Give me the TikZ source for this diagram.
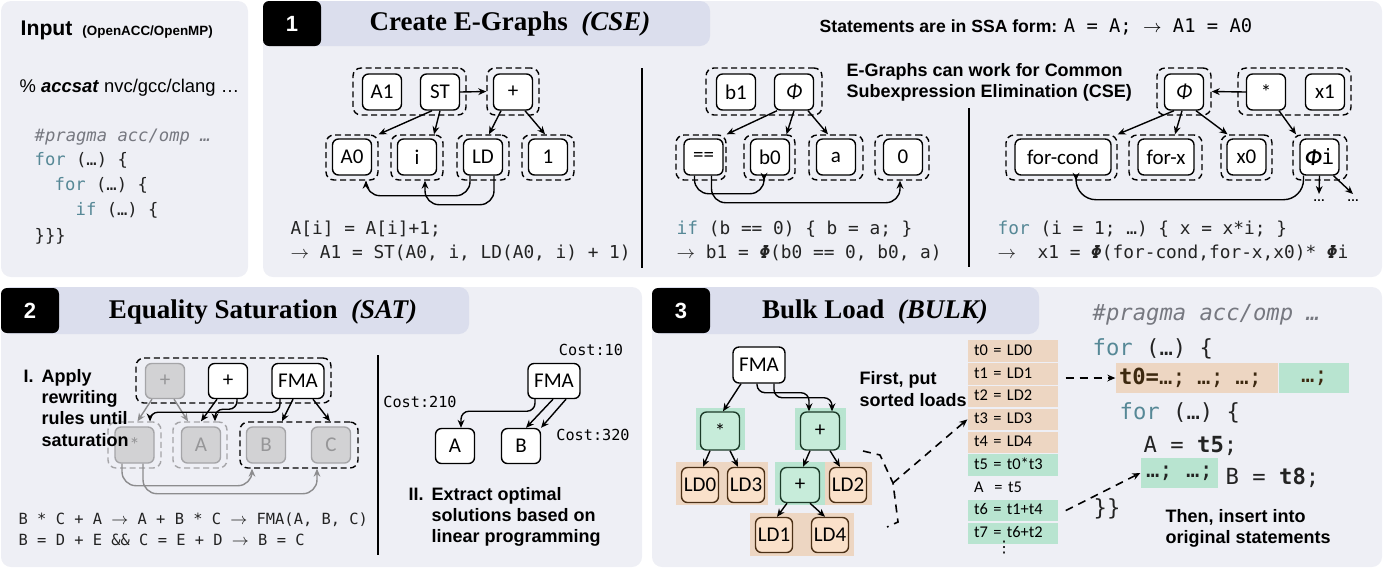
\documentclass[tikz,border=0pt]{standalone}
\usepackage{fontspec}
\setmainfont{Liberation Serif}
\setsansfont{Liberation Sans}
\setmonofont{DejaVu Sans Mono}
\newfontfamily\labelfont{Carlito}
\newfontfamily\dotsfont{DejaVu Sans}
\usepackage{xcolor}
\usepackage{tikz}
\usetikzlibrary{positioning,arrows.meta}
\definecolor{panelbg}{RGB}{238,239,245}
\definecolor{tabbg}{RGB}{219,222,237}
\definecolor{kwcol}{RGB}{86,136,150}
\definecolor{pragcol}{RGB}{118,120,128}
\definecolor{codecol}{RGB}{35,35,35}
\definecolor{mint}{RGB}{184,228,208}
\definecolor{mintnode}{RGB}{199,236,218}
\definecolor{mintline}{RGB}{28,58,40}
\definecolor{peach}{RGB}{237,214,194}
\definecolor{peachnode}{RGB}{250,225,202}
\definecolor{peachline}{RGB}{75,48,22}
\definecolor{fadefill}{RGB}{210,210,212}
\definecolor{fadeline}{RGB}{165,165,168}
\definecolor{fadetext}{RGB}{150,150,152}
\definecolor{fadeedge}{RGB}{140,140,142}
\definecolor{loadtext}{RGB}{60,40,15}
\newcommand{\arr}{$\rightarrow$}
\tikzset{
  enode/.style={draw,line width=0.7pt,rounded corners=3pt,fill=white,
    minimum width=19.5pt,minimum height=18pt,inner sep=1pt,
    font=\labelfont\fontsize{10.5}{12}\selectfont},
  egroup/.style={draw,line width=0.7pt,dash pattern=on 3pt off 1.8pt,
    rounded corners=4pt,minimum width=26pt,minimum height=22.5pt,inner sep=0pt},
  fadenode/.style={enode,draw=fadeline,fill=fadefill,text=fadetext},
  fadegroup/.style={egroup,draw=fadeline},
  greennode/.style={enode,draw=mintline,fill=mintnode,minimum height=19pt},
  loadnode/.style={enode,draw=peachline,fill=peachnode,minimum width=18.5pt,
    minimum height=17.5pt},
  bgbox/.style={inner sep=0pt},
  badge/.style={fill=black,rounded corners=3pt,text=white,minimum width=29pt,
    minimum height=22.5pt,font=\sffamily\bfseries\fontsize{11}{13}\selectfont},
  title/.style={font=\rmfamily\bfseries\fontsize{13.5}{16}\selectfont},
  note/.style={font=\sffamily\bfseries\fontsize{9}{10.6}\selectfont,align=left,
    inner sep=0pt},
  code/.style={font=\ttfamily\fontsize{8.9}{10}\selectfont,text=codecol,
    inner sep=0pt},
  cost/.style={font=\ttfamily\fontsize{7.6}{9}\selectfont,inner sep=0pt},
  bigcode/.style={font=\ttfamily\fontsize{11.1}{13}\selectfont,text=codecol,
    inner sep=0pt},
  row/.style={inner ysep=0pt,inner xsep=3pt,text width=39pt,text height=6.2pt,
    text depth=2pt,minimum height=10.7pt,align=left,
    font=\labelfont\fontsize{8.2}{9}\selectfont},
  more/.style={anchor=north,inner sep=0.5pt,text height=3pt,
    font=\sffamily\bfseries\fontsize{6}{7}\selectfont},
  link/.style={dash pattern=on 4pt off 3pt,line width=0.8pt}
}
\begin{document}
\begin{tikzpicture}[x=0.5pt,y=-0.5pt,>={Stealth[length=4pt,width=3.4pt]},
  line width=0.7pt]
\useasboundingbox (0,0) rectangle (1385,570);
\fill[panelbg,rounded corners=5pt] (1,1) rectangle (248,277);
\fill[panelbg,rounded corners=5pt] (263,1) rectangle (1382,277);
\fill[panelbg,rounded corners=5pt] (1,287) rectangle (642,567);
\fill[panelbg,rounded corners=5pt] (652,287) rectangle (1382,567);
\fill[tabbg,rounded corners=5pt] (263,1) rectangle (710,46);
\fill[tabbg,rounded corners=5pt] (1,287) rectangle (469,334);
\fill[tabbg,rounded corners=5pt] (652,287) rectangle (1039,334);
\node[badge] (num1) at (292,23.5) {1};
\node[badge] (num2) at (30,310.5) {2};
\node[badge] (num3) at (681,310.5) {3};
\node[title] (title1) at (510,24) {Create E-Graphs~ \textit{(CSE)}};
\node[title] (title2) at (263,312) {Equality Saturation~ \textit{(SAT)}};
\node[title] (title3) at (875,312) {Bulk Load~ \textit{(BULK)}};

\node[anchor=base west,inner sep=0pt,font=\sffamily\bfseries\fontsize{10.6}{12}\selectfont]
  (input) at (20,35) {Input\hspace{5pt}{\fontsize{6.7}{8}\selectfont(OpenACC/OpenMP)}};
\node[anchor=west,inner sep=0pt,font=\sffamily\fontsize{9.2}{11}\selectfont]
  (cmd) at (19,88) {\% \textbf{\textit{accsat}} nvc/gcc/clang …};
\node[code,font=\ttfamily\fontsize{8.6}{10}\selectfont,anchor=base west,text=pragcol]
  (prag) at (34,141) {\itshape \#pragma acc/omp …};
\node[code,font=\ttfamily\fontsize{8.6}{10}\selectfont,anchor=base west]
  (forA) at (34,165) {\textcolor{kwcol}{for} (…) \{};
\node[code,font=\ttfamily\fontsize{8.6}{10}\selectfont,anchor=base west]
  (forB) at (54,190) {\textcolor{kwcol}{for} (…) \{};
\node[code,font=\ttfamily\fontsize{8.6}{10}\selectfont,anchor=base west]
  (ifA) at (75,215) {\textcolor{kwcol}{if} (…) \{};
\node[code,font=\ttfamily\fontsize{8.6}{10}\selectfont,anchor=base west]
  (closeA) at (34,241) {\}\}\}};

\node[egroup,minimum width=56.5pt,minimum height=23.5pt] (gST) at (409.5,91.5) {};
\node[enode] (A1) at (382,92) {A1};
\node[enode] (ST) at (440,92) {ST};
\node[egroup,minimum height=23.5pt] (gAdd) at (513,91.5) {};
\node[enode] (add) at (513,92) {+};
\node[egroup] (gA0) at (352,157.5) {};
\node[enode] (A0) at (352,157) {A0};
\node[egroup] (gi) at (417,157.5) {};
\node[enode] (ni) at (417,157) {i};
\node[egroup] (gLD) at (483,157.5) {};
\node[enode] (LD) at (483,157) {LD};
\node[egroup] (gone) at (548,157.5) {};
\node[enode] (one) at (548,157) {1};
\draw[->] (ST.east) -- (gAdd.west);
\draw[->] ([xshift=-4pt]ST.south) -- (gA0.north east);
\draw[->] (ST.south) -- ([xshift=8.5pt]gi.north);
\draw[->] ([xshift=-6pt]add.south) -- ([xshift=3pt]gLD.north);
\draw[->] ([xshift=6pt]add.south) -- ([xshift=-1.5pt]gone.north);
\draw[->,rounded corners=7pt] ([xshift=-6.5pt]LD.south) -- ++(0,20)
  -| ([xshift=7pt]gA0.south);
\draw[->,rounded corners=7pt] ([xshift=5.5pt]LD.south) -- ++(0,29)
  -| ([xshift=4pt]gi.south);
\node[code,anchor=base west] (srcA) at (290,234) {A[i] = A[i]+1;};
\node[code,anchor=base west] (ssaA) at (290,258) {\arr{} A1 = ST(A0, i, LD(A0, i) + 1)};
\draw (642,68) -- (642,268);

\node[anchor=base west,inner sep=0pt] (ssa) at (819,32)
  {\sffamily\bfseries\fontsize{8.8}{10}\selectfont Statements are in SSA form:
   {\ttfamily\mdseries\fontsize{9.4}{10}\selectfont A = A; \arr{} A1 = A0}};
\node[egroup,minimum width=58pt,minimum height=23.5pt] (gPhiB) at (764,91.5) {};
\node[enode] (b1) at (736,92) {b1};
\node[enode] (phiB) at (794,92) {\itshape Φ};
\node[egroup,minimum width=25pt] (gEq) at (701,157.5) {};
\node[enode] (eq) at (703.5,157) {==};
\node[egroup,minimum width=25.5pt] (gb0) at (769.5,157.5) {};
\node[enode] (b0) at (770,157) {b0};
\node[egroup,minimum width=27pt] (ga) at (836,157.5) {};
\node[enode] (na) at (836,157) {a};
\node[egroup,minimum width=27pt] (gzero) at (902,157.5) {};
\node[enode] (zero) at (903,157) {0};
\draw[->] ([xshift=-8.5pt]phiB.south) -- (gEq.north east);
\draw[->] (phiB.south) -- ([xshift=8.5pt]gb0.north);
\draw[->] ([xshift=7pt]phiB.south) -- ([xshift=-4pt]ga.north);
\draw[->,rounded corners=7pt] ([xshift=-4.5pt]eq.south) -- ++(0,18)
  -| ([xshift=-2.75pt]gb0.south);
\draw[->,rounded corners=7pt] ([xshift=4pt]eq.south) -- ++(0,27)
  -| ([xshift=-1pt]gzero.south);
\node[code,anchor=base west] (srcB) at (676,234)
  {\textcolor{kwcol}{if} (b == 0) \{ b = a; \}};
\node[code,anchor=base west] (ssaB) at (676,258)
  {\arr{} b1 = \textbf{\textit{Φ}}(b0 == 0, b0, a)};
\node[note,anchor=west] (cseNote) at (846,82)
  {E-Graphs can work for Common\\Subexpression Elimination (CSE)};
\draw (969,108) -- (969,267);

\node[egroup,minimum width=27pt,minimum height=23.5pt] (gPhiC) at (1184,91.5) {};
\node[enode] (phiC) at (1184,92) {\itshape Φ};
\node[egroup,minimum width=56.5pt,minimum height=23.5pt] (gMul) at (1294.5,91.5) {};
\node[enode] (mul) at (1266,92) {*};
\node[enode] (x1) at (1325,92) {x1};
\node[egroup,minimum width=55.5pt] (gFC) at (1061.5,157.5) {};
\node[enode,minimum width=48pt] (forcond) at (1063,157) {for-cond};
\node[egroup,minimum width=36.5pt] (gFX) at (1165.5,157.5) {};
\node[enode,minimum width=28pt] (forx) at (1166,157) {for-x};
\node[egroup,minimum width=25.5pt] (gX0) at (1246.5,157.5) {};
\node[enode] (x0) at (1246.5,157) {x0};
\node[egroup,minimum width=27pt] (gPhiI) at (1320,157.5) {};
\node[enode] (phiI) at (1319.5,157) {{\bfseries\itshape Φ}{\ttfamily i}};
\node[more] (more1) at (1319,194) {…};
\node[more] (more2) at (1353,194) {…};
\draw[->] (mul.west) -- (gPhiC.east);
\draw[->] ([xshift=-5pt]phiC.south) -- (gFC.north east);
\draw[->] ([xshift=-1pt]phiC.south) -- ([xshift=4.75pt]gFX.north);
\draw[->] ([xshift=6pt]phiC.south) -- ([xshift=-9.5pt]gX0.north);
\draw[->] ([xshift=6.5pt]mul.south) -- ([xshift=-12pt]gPhiI.north);
\draw[->] (phiI.south) -- (more1.north);
\draw[->] ([xshift=7pt]phiI.south) -- (more2.north);
\draw[->,rounded corners=10pt] ([xshift=-8pt]phiI.south) -- ++(0,24)
  -| ([xshift=7.25pt]gFC.south);
\node[code,anchor=base west] (srcC) at (997,234)
  {\textcolor{kwcol}{for} (i = 1; …) \{ x = x*i; \}};
\node[code,anchor=base west] (ssaC) at (997,258)
  {\arr\ \ x1 = \textbf{\textit{Φ}}(for-cond,for-x,x0)* \textbf{\textit{Φ}}i};

\node[egroup,minimum width=97.5pt] (gTop) at (233.5,380.5) {};
\node[fadenode,minimum height=17.5pt] (oldAdd) at (165,381) {+};
\node[enode,minimum height=17.5pt] (newAdd) at (228,381) {+};
\node[enode,minimum width=26pt,minimum height=17.5pt] (fma) at (298,381) {FMA};
\node[fadegroup,minimum width=26.5pt,minimum height=23pt] (gStar) at (134.5,445) {};
\node[fadenode] (star) at (134.5,445) {*};
\node[fadegroup,minimum width=27pt,minimum height=23pt] (gAop) at (200,445) {};
\node[fadenode] (opA) at (201,445) {A};
\node[egroup,minimum width=59pt,minimum height=23pt] (gBC) at (299,445) {};
\node[fadenode] (opB) at (266,445) {B};
\node[fadenode] (opC) at (331,445) {C};
\draw[->,fadeedge] ([xshift=-6.5pt]oldAdd.south) -- ([xshift=1.5pt]gStar.north);
\draw[->,fadeedge] ([xshift=4.5pt]oldAdd.south) -- ([xshift=-6pt]gAop.north);
\draw[->] ([xshift=-5.5pt]newAdd.south) -- ([xshift=0.5pt]gAop.north);
\draw[->,rounded corners=4pt] ([xshift=4.5pt]newAdd.south) -- ++(0,10)
  -| ([xshift=7.5pt]gAop.north);
\draw[->,rounded corners=4pt] ([xshift=-9pt]fma.south) -- ++(0,13)
  -| ([xshift=7.75pt]gStar.north);
\draw[->] ([xshift=-2.5pt]fma.south) -- ([xshift=-8.5pt]gBC.north);
\draw[->] ([xshift=7.5pt]fma.south) -- ([xshift=15.5pt]gBC.north);
\draw[->,fadeedge,rounded corners=7pt] ([xshift=-6.25pt]star.south) -- ++(0,22)
  -| ([xshift=-23.5pt]gBC.south);
\draw[->,fadeedge,rounded corners=7pt] ([xshift=4.25pt]star.south) -- ++(0,30)
  -| ([xshift=9pt]gBC.south);
\node[note,anchor=north west] (apply) at (23,367)
  {\begin{tabular}{@{}l@{\hspace{4pt}}l@{}}I. & Apply\\ & rewriting\\
   & rules until\\ & saturation\end{tabular}};
\node[code,font=\ttfamily\fontsize{7.7}{9}\selectfont,anchor=base west] (ruleA)
  at (18,524) {B * C + A \arr{} A + B * C \arr{} FMA(A, B, C)};
\node[code,font=\ttfamily\fontsize{7.7}{9}\selectfont,anchor=base west] (ruleB)
  at (18,545) {B = D + E \&\& C = E + D \arr{} B = C};
\draw (378,355) -- (378,555);
\node[enode,minimum width=26pt,minimum height=17.5pt] (exFMA) at (554,381) {FMA};
\node[enode,minimum height=17.5pt] (exA) at (455,446) {A};
\node[enode,minimum height=17.5pt] (exB) at (521,446) {B};
\node[cost] (costTen) at (591,350) {Cost:10};
\node[cost] (costA) at (420,402) {Cost:210};
\node[cost] (costB) at (593,435) {Cost:320};
\draw[->,rounded corners=4pt] ([xshift=-9.5pt]exFMA.south) -- ++(0,12)
  -| ([xshift=3pt]exA.north);
\draw[->] ([xshift=-0.5pt]exFMA.south) -- ([xshift=2.5pt]exB.north);
\draw[->] ([xshift=6pt]exFMA.south) -- ([xshift=10pt]exB.north);
\node[note,anchor=north west] (extract) at (408,485)
  {\begin{tabular}{@{}l@{\hspace{4pt}}l@{}}II. & Extract optimal\\
   & solutions based on\\ & linear programming\end{tabular}};

\node[enode,minimum width=26pt] (bFMA) at (759,365) {FMA};
\node[bgbox,fill=mint,minimum width=24.5pt,minimum height=21pt] (hStar) at (720.5,429) {};
\node[greennode] (bStar) at (720,431) {*};
\node[bgbox,fill=mint,minimum width=25.5pt,minimum height=21pt] (hAdd) at (820.5,429) {};
\node[greennode] (bAdd) at (820,431) {+};
\node[bgbox,fill=peach,minimum width=46pt,minimum height=21.5pt] (hLoadA) at (722,483.5) {};
\node[loadnode] (ld0) at (700,485) {LD0};
\node[loadnode] (ld3) at (746,485) {LD3};
\node[bgbox,fill=mint,minimum width=25pt,minimum height=21.5pt] (hAddB) at (800,483.5) {};
\node[greennode,minimum height=17.5pt] (bAddB) at (800,485) {+};
\node[bgbox,fill=peach,minimum width=23.5pt,minimum height=21.5pt] (hLoadB) at (848.5,483.5) {};
\node[loadnode] (ld2) at (848,485) {LD2};
\node[bgbox,fill=peach,minimum width=52pt,minimum height=21.5pt] (hLoadC) at (802,534.5) {};
\node[loadnode] (ld1) at (774,535) {LD1};
\node[loadnode] (ld4) at (830,535) {LD4};
\draw[->] ([xshift=-9pt]bFMA.south) -- ([xshift=1.5pt]bStar.north);
\draw[->,rounded corners=4pt] ([xshift=-1pt]bFMA.south) -- ++(0,9)
  -| ([xshift=-5.5pt]bAdd.north);
\draw[->,rounded corners=4pt] ([xshift=7.5pt]bFMA.south) -- ++(0,14)
  -| ([xshift=6pt]bAdd.north);
\draw[->] ([xshift=-5pt]bStar.south) -- ([xshift=1.5pt]ld0.north);
\draw[->] ([xshift=5pt]bStar.south) -- ([xshift=-4pt]ld3.north);
\draw[->] ([xshift=-5pt]bAdd.south) -- ([xshift=1.5pt]bAddB.north);
\draw[->] ([xshift=5pt]bAdd.south) -- ([xshift=-4pt]ld2.north);
\draw[->] ([xshift=-6.5pt]bAddB.south) -- ([xshift=1.5pt]ld1.north);
\draw[->] ([xshift=5pt]bAddB.south) -- ([xshift=-2.5pt]ld4.north);
\node[note,anchor=west] (first) at (859,389) {First, put\\sorted loads};

\node[row,fill=peach] (r0) at (1013,351) {t0 = LD0};
\node[row,fill=peach,below=0 of r0] (r1) {t1 = LD1};
\node[row,fill=peach,below=0 of r1] (r2) {t2 = LD2};
\node[row,fill=peach,below=0 of r2] (r3) {t3 = LD3};
\node[row,fill=peach,below=0 of r3] (r4) {t4 = LD4};
\node[row,fill=mint,below=0 of r4] (r5) {t5 = t0*t3};
\node[row,below=0 of r5] (rA) {A~ = t5};
\node[row,fill=mint,below=0 of rA] (r6) {t6 = t1+t4};
\node[row,fill=mint,below=0 of r6] (r7) {t7 = t6+t2};
\node[anchor=north,inner sep=0pt,font=\dotsfont\fontsize{8}{9}\selectfont] (rmore)
  at (1004,540) {⋮};
\coordinate (brk) at (893,483);
\draw[link] (863,451) -- (880,455) -- (brk) -- (898,522) -- (887,527);
\draw[link,->] (brk) -- (r3.west);

\node[bigcode,anchor=base west,text=pragcol] (pragB) at (1092,320)
  {\itshape \#pragma acc/omp …};
\node[bigcode,anchor=base west] (outer) at (1092,355) {\textcolor{kwcol}{for} (…) \{};
\node[bigcode,fill=peach,text width=78pt,inner xsep=1.5pt,minimum height=15pt,
  align=left,text=loadtext] (oLoad) at (1197,378)
  {\textbf{t0=}…;\ \hspace{2pt}…;\ \hspace{2pt}…;};
\node[bigcode,fill=mint,minimum width=35pt,minimum height=15pt,right=0 of oLoad,
  text=loadtext] (gLoad) {…;};
\node[bigcode,anchor=base west] (inner) at (1119,419) {\textcolor{kwcol}{for} (…) \{};
\node[bigcode,anchor=base west] (useA) at (1143,452) {A = \textbf{t5};};
\node[bigcode,fill=mint,minimum width=38.5pt,minimum height=15pt] (gMid)
  at (1179.5,473) {…;\ …;};
\node[bigcode,anchor=base west] (useB) at (1225,484) {B = \textbf{t8};};
\node[bigcode,anchor=base west] (closeB) at (1093,515) {\}\}};
\draw[link,->] ([xshift=3.5pt]r1.east |- oLoad.west) -- (oLoad.west);
\draw[link,->] ([xshift=3.5pt]r6.east) -- (gMid.west);
\node[note,anchor=west] (thenNote) at (1165,528) {Then, insert into\\original statements};
\end{tikzpicture}
\end{document}
